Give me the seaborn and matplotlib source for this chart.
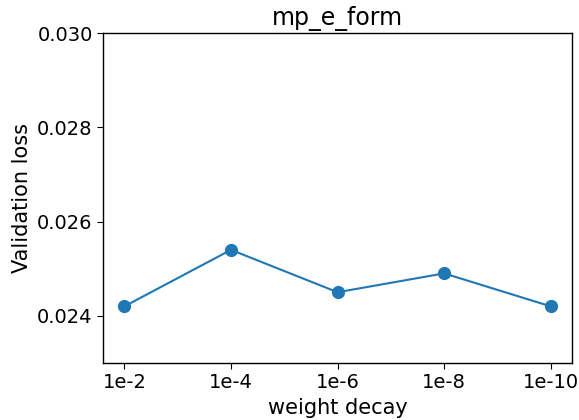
import matplotlib
matplotlib.use('Agg')
import matplotlib.pyplot as plt
import seaborn as sns
import pandas as pd

# dữ liệu
decay = ['1e-2', '1e-4', '1e-6', '1e-8', '1e-10']
val_loss = [0.0242, 0.0254, 0.0245, 0.0249, 0.0242]

df = pd.DataFrame({'weight decay': decay, 'Validation loss': val_loss})

sns.set_style('ticks')
plt.rcParams['font.family'] = ['DejaVu Sans']
plt.rcParams['text.color'] = 'black'
plt.rcParams['axes.labelcolor'] = 'black'
plt.rcParams['xtick.color'] = 'black'
plt.rcParams['ytick.color'] = 'black'

fig, ax = plt.subplots(figsize=(5.79, 4.20), dpi=100)
sns.lineplot(data=df, x='weight decay', y='Validation loss', marker='o',
             markersize=9.5, markeredgewidth=0, color='#1f77b4',
             linewidth=1.5, sort=False, ax=ax)
ax.set_ylim(0.023, 0.030)
ax.set_yticks([0.024, 0.026, 0.028, 0.030])
ax.set_xlim(-0.2, 4.2)
ax.set_title('mp_e_form', fontsize=17, color='black')
ax.set_xlabel('weight decay', fontsize=15)
ax.set_ylabel('Validation loss', fontsize=15)
ax.tick_params(labelsize=14, colors='black', length=4)
for s in ax.spines.values():
    s.set_visible(True)
    s.set_color('black')
    s.set_linewidth(1.0)
fig.subplots_adjust(left=0.178, right=0.988, top=0.921, bottom=0.136)
fig.savefig('out.png', dpi=100)
